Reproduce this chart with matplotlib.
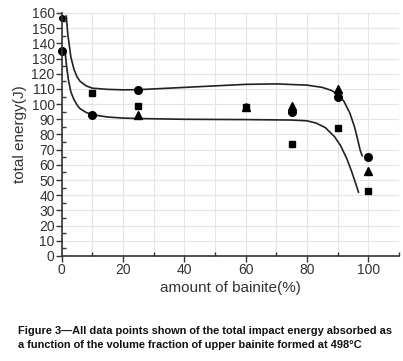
import numpy as np
import matplotlib.pyplot as plt
from matplotlib.ticker import MultipleLocator

# measured points (amount of bainite %, total energy J)
circle_x = [0, 10, 25, 75, 90, 100]
circle_y = [135, 93, 109, 95, 105, 65]
square_x = [10, 25, 60, 75, 90, 100]
square_y = [107, 99, 98, 74, 84, 43]
tri_x = [25, 60, 75, 90, 100]
tri_y = [93, 98, 99, 110, 56]
top_x = [0]
top_y = [157]

# fitted curves
upper_x = [1.5, 2, 3, 4, 5, 6, 8, 10, 15, 20, 25, 30, 40, 50, 60, 70, 80, 85, 88, 90, 92, 94, 95.5, 96.5, 97.3, 98]
upper_y = [158, 146, 131, 123, 118, 115, 112, 110.5, 109.7, 109.4, 109.5, 110, 111, 112, 113, 113.3, 112.5, 111, 109, 106.5, 102, 94, 85, 77, 70, 66]
lower_x = [1.2, 1.6, 2.2, 3, 4, 5, 6, 8, 10, 15, 20, 25, 40, 60, 75, 80, 83, 86, 89, 91, 93, 94.5, 96, 96.8]
lower_y = [133, 125, 116, 108, 103, 99.5, 97, 94.5, 93, 91.5, 90.8, 90.5, 90, 89.8, 89.5, 89, 87.5, 84.5, 78.5, 72.5, 64, 56, 47, 42]

plt.rcParams['font.family'] = ['Liberation Sans Narrow', 'Liberation Sans', 'DejaVu Sans']

fig = plt.figure(figsize=(4.03, 3.61), dpi=100)
ax = fig.add_axes([0.153, 0.291, 0.837, 0.673])

ax.plot(upper_x, upper_y, color='#222222', lw=1.2)
ax.plot(lower_x, lower_y, color='#222222', lw=1.2)
ax.plot(circle_x, circle_y, 'o', color='black', ms=5.5, clip_on=False)
ax.plot(top_x, top_y, 'o', color='black', ms=4, clip_on=False)
ax.plot(square_x, square_y, 's', color='black', ms=4.8)
ax.plot(tri_x, tri_y, '^', color='black', ms=5.5)

ax.set_xlim(0, 110)
ax.set_ylim(0, 160)
ax.xaxis.set_major_locator(MultipleLocator(20))
ax.xaxis.set_minor_locator(MultipleLocator(10))
ax.yaxis.set_major_locator(MultipleLocator(10))
ax.yaxis.set_minor_locator(MultipleLocator(5))
ax.set_xticks([0, 20, 40, 60, 80, 100])

ax.grid(True, which='major', color='#e4e4e4', lw=0.8)
ax.grid(True, which='minor', axis='x', color='#e4e4e4', lw=0.8)
ax.set_axisbelow(True)

for s in ['top', 'right']:
    ax.spines[s].set_visible(False)
for s in ['left', 'bottom']:
    ax.spines[s].set_color('#333333')
    ax.spines[s].set_linewidth(1.2)

ax.tick_params(which='major', direction='out', length=4, width=1, colors='#333333', labelsize=10, pad=1)
ax.tick_params(which='minor', direction='in', length=3, width=1, colors='#333333')

ax.set_xlabel('amount of bainite(%)', fontsize=11, color='#333333', labelpad=3)
ax.set_ylabel('total energy(J)', fontsize=11, color='#333333', labelpad=3)

fig.text(0.045, 0.03, 'Figure 3\u2014All data points shown of the total impact energy absorbed as\n'
         'a function of the volume fraction of upper bainite formed at 498\u00b0C',
         fontsize=7.9, fontweight='bold', family=['Liberation Sans', 'DejaVu Sans'],
         color='#111111', linespacing=1.55, va='bottom')

fig.savefig('out.png', dpi=100)
